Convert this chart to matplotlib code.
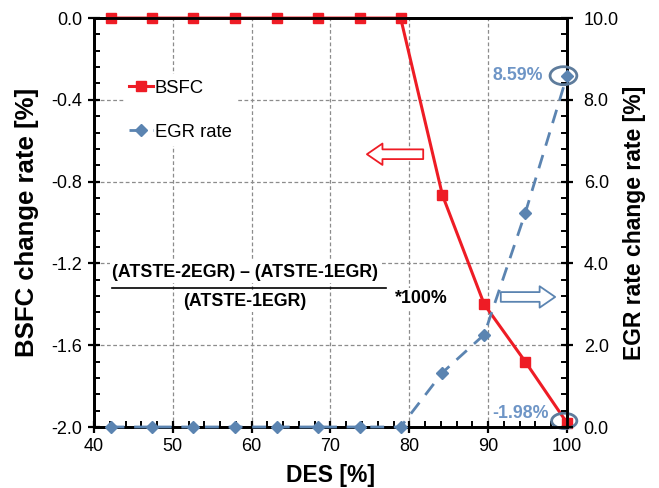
import matplotlib
matplotlib.use("Agg")
import matplotlib.pyplot as plt
import numpy as np
from matplotlib.patches import Ellipse
from matplotlib.ticker import MultipleLocator, FormatStrFormatter

plt.rcParams["font.family"] = ["Liberation Sans", "DejaVu Sans"]
plt.rcParams["axes.unicode_minus"] = False

# DES operating points [%]
des = [42.1, 47.4, 52.6, 57.9, 63.2, 68.4, 73.7, 78.9, 84.2, 89.5, 94.7, 100.0]
# BSFC change rate [%]
bsfc = [0.0, 0.0, 0.0, 0.0, 0.0, 0.0, 0.0, 0.0, -0.866, -1.40, -1.68, -1.98]
# EGR rate change rate [%]
egr = [0.0, 0.0, 0.0, 0.0, 0.0, 0.0, 0.0, 0.0, 1.33, 2.26, 5.23, 8.59]

red = "#ee1c25"
blue = "#5b84b1"
label_blue = "#6e95c6"
ring = "#5e7c9c"

fig = plt.figure(figsize=(6.59, 4.88), dpi=100)
ax = fig.add_axes([0.1426, 0.125, 0.7178, 0.838])
ax2 = ax.twinx()

l1, = ax.plot(des, bsfc, color=red, lw=2.2, marker="s", ms=7, zorder=3,
              label="BSFC", clip_on=False)
l2, = ax2.plot(des, egr, color=blue, lw=2, ls=(0, (5, 3.5)), marker="D", ms=6.3,
               zorder=3, label="EGR rate", clip_on=False)

ax.set_xlim(40, 100)
ax.set_ylim(-2.0, 0.0)
ax2.set_ylim(0.0, 10.0)

ax.xaxis.set_major_locator(MultipleLocator(10))
ax.xaxis.set_minor_locator(MultipleLocator(2))
ax.yaxis.set_major_locator(MultipleLocator(0.4))
ax.yaxis.set_minor_locator(MultipleLocator(0.08))
ax.yaxis.set_major_formatter(FormatStrFormatter("%.1f"))
ax2.yaxis.set_major_locator(MultipleLocator(2))
ax2.yaxis.set_minor_locator(MultipleLocator(0.4))
ax2.yaxis.set_major_formatter(FormatStrFormatter("%.1f"))

for a in (ax, ax2):
    for s in a.spines.values():
        s.set_linewidth(2)
        s.set_color("black")
    a.tick_params(which="major", direction="inout", length=8, width=1.6,
                  labelsize=13, colors="black")
    a.tick_params(which="minor", direction="in", length=4, width=1.4)
ax.tick_params(axis="x", pad=4)
ax.tick_params(axis="y", pad=4.5)
ax2.tick_params(axis="y", pad=8)

ax.grid(True, which="major", color="#8c8c8c", ls=(0, (3, 2)), lw=0.9)
ax.set_axisbelow(True)

ax.set_xlabel("DES [%]", fontsize=16.5, fontweight="bold", labelpad=6.5)
ax.set_ylabel("BSFC change rate [%]", fontsize=18.5, fontweight="bold", labelpad=8.5)
ax2.set_ylabel("EGR rate change rate [%]", fontsize=16.5, fontweight="bold", labelpad=3)

leg = ax2.legend(handles=[l1, l2], loc="upper left", bbox_to_anchor=(0.043, 0.885),
                 fontsize=13.3, frameon=True, facecolor="white", edgecolor="none",
                 framealpha=1, handlelength=1.3, handletextpad=0.1,
                 labelspacing=1.45, borderpad=0.3, fancybox=False)

# Formula describing how the change rate is computed
box = dict(facecolor="white", edgecolor="none", pad=1.5)
ax2.text(0.319, 0.379, "(ATSTE-2EGR) \u2013 (ATSTE-1EGR)", transform=ax2.transAxes,
         ha="center", va="center", fontsize=12.8, fontweight="bold", bbox=box, zorder=5)
ax2.plot([0.038, 0.617], [0.339, 0.339], transform=ax2.transAxes, color="black",
         lw=1.2, zorder=6)
ax2.text(0.319, 0.307, "(ATSTE-1EGR)", transform=ax2.transAxes,
         ha="center", va="center", fontsize=12.8, fontweight="bold", bbox=box, zorder=5)
ax2.text(0.636, 0.314, "*100%", transform=ax2.transAxes,
         ha="left", va="center", fontsize=12.8, fontweight="bold", bbox=box, zorder=5)

# Hollow arrows pointing to the respective axes
arrow_style = "simple,head_length=0.8,head_width=1.1,tail_width=0.5"
ax2.annotate("", xy=(0.577, 0.667), xytext=(0.696, 0.667), xycoords="axes fraction",
             arrowprops=dict(arrowstyle=arrow_style, fc="white", ec=red, lw=1.3,
                             shrinkA=0, shrinkB=0, mutation_scale=14), zorder=6)
ax2.annotate("", xy=(0.975, 0.318), xytext=(0.860, 0.318), xycoords="axes fraction",
             arrowprops=dict(arrowstyle=arrow_style, fc="white", ec=blue, lw=1.3,
                             shrinkA=0, shrinkB=0, mutation_scale=14), zorder=6)

# Highlight final values
ax2.add_patch(Ellipse((des[-1] - 0.45, egr[-1]), width=3.4, height=0.44, fill=False,
                      ec=ring, lw=2, zorder=7, clip_on=False))
ax.add_patch(Ellipse((des[-1] - 0.35, bsfc[-1] + 0.01), width=3.2, height=0.075, fill=False,
                     ec=ring, lw=2, zorder=7, clip_on=False))
ax2.annotate(f"{egr[-1]:.2f}%", xy=(des[-1], egr[-1]), xytext=(-17, 0),
             textcoords="offset points", ha="right", va="center", fontsize=12.8,
             fontweight="bold", color=label_blue, zorder=8)
ax.annotate(f"{bsfc[-1]:.2f}%", xy=(des[-1], bsfc[-1]), xytext=(-13, 6.5),
            textcoords="offset points", ha="right", va="center", fontsize=12.8,
            fontweight="bold", color=label_blue, zorder=8)

fig.savefig("out.png", dpi=100)
